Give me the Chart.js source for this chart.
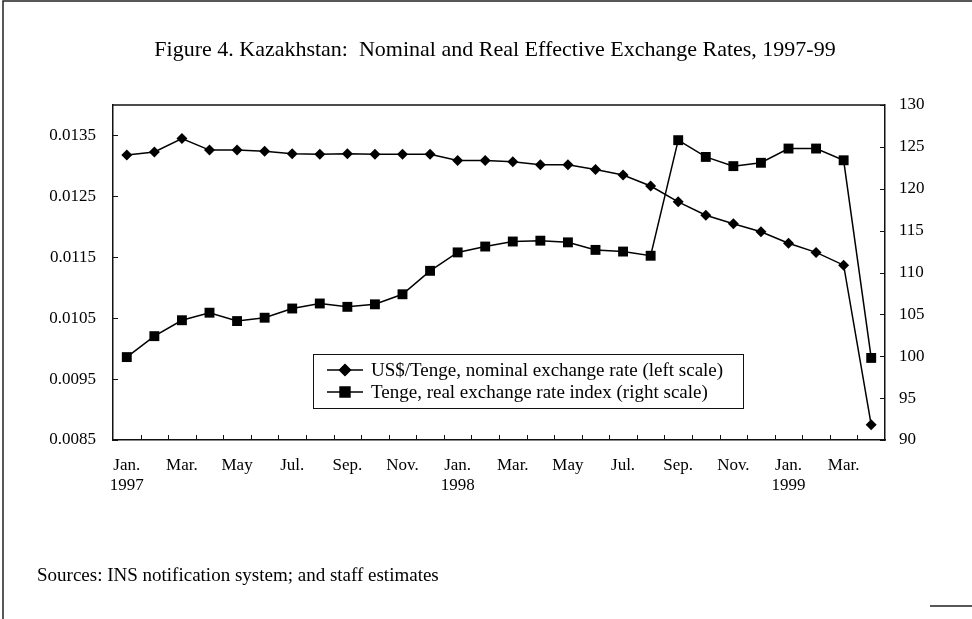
<!DOCTYPE html>
<html>
<head>
<meta charset="utf-8">
<title>Kazakhstan: Nominal and Real Effective Exchange Rates, 1997-99</title>
<script src="https://cdn.jsdelivr.net/npm/chart.js@4.4.0/dist/chart.umd.min.js"></script>
<style>
  html, body { margin: 0; padding: 0; background: #fff; }
  #chart { display: block; }
</style>
</head>
<body>
<canvas id="chart" width="972" height="619"></canvas>
<script>
const titleText = "Figure 4. Kazakhstan:  Nominal and Real Effective Exchange Rates, 1997-99";
const sourceText = "Sources: INS notification system; and staff estimates";

//Months, Jan. 1997 to Apr. 1999
const categories = [
  "Jan 1997", "Feb 1997", "Mar 1997", "Apr 1997", "May 1997", "Jun 1997",
  "Jul 1997", "Aug 1997", "Sep 1997", "Oct 1997", "Nov 1997", "Dec 1997",
  "Jan 1998", "Feb 1998", "Mar 1998", "Apr 1998", "May 1998", "Jun 1998",
  "Jul 1998", "Aug 1998", "Sep 1998", "Oct 1998", "Nov 1998", "Dec 1998",
  "Jan 1999", "Feb 1999", "Mar 1999", "Apr 1999",
];
//Labels under the x axis (every second month)
const tickLabels = [
  ["Jan.", "1997"], "", "Mar.", "", "May", "", "Jul.", "", "Sep.", "", "Nov.", "",
  ["Jan.", "1998"], "", "Mar.", "", "May", "", "Jul.", "", "Sep.", "", "Nov.", "",
  ["Jan.", "1999"], "", "Mar.", "",
];
//US$/Tenge, nominal exchange rate (left scale)
const nominalRate = [
  0.01318, 0.01323, 0.01345, 0.01326, 0.01326, 0.01324,
  0.01320, 0.01319, 0.01320, 0.01319, 0.01319, 0.01319,
  0.01309, 0.01309, 0.01307, 0.01302, 0.01302, 0.01294,
  0.01285, 0.01267, 0.01241, 0.01219, 0.01205, 0.01192,
  0.01173, 0.01158, 0.01137, 0.00875,
];
//Tenge, real exchange rate index (right scale)
const realIndex = [
  99.9, 102.4, 104.3, 105.2, 104.2, 104.6,
  105.7, 106.3, 105.9, 106.2, 107.4, 110.2,
  112.4, 113.1, 113.7, 113.8, 113.6, 112.7,
  112.5, 112.0, 125.8, 123.8, 122.7, 123.1,
  124.8, 124.8, 123.4, 99.8,
];
const seriesNames = [
  "US$/Tenge, nominal exchange rate (left scale)",
  "Tenge, real exchange rate index (right scale)",
];
//Tick values of both y axes
const leftTicks = [0.0085, 0.0095, 0.0105, 0.0115, 0.0125, 0.0135];
const rightTicks = [90, 95, 100, 105, 110, 115, 120, 125, 130];

const serif = "'Liberation Serif', 'DejaVu Serif', serif";

//Draws the frame, inward tick marks, legend box, source line and page border
const decor = {
  id: "decor",
  afterDraw(chart) {
    const ctx = chart.ctx;
    const a = chart.chartArea;
    const yl = chart.scales.y;
    const yr = chart.scales.y1;
    ctx.save();
    ctx.strokeStyle = "#111";
    ctx.lineWidth = 1.5;
    //top of the plot frame
    ctx.beginPath();
    ctx.moveTo(a.left, a.top);
    ctx.lineTo(a.right, a.top);
    ctx.stroke();
    //inward tick marks
    ctx.lineWidth = 1;
    ctx.beginPath();
    yl.ticks.forEach((t) => {
      const py = Math.round(yl.getPixelForValue(t.value)) + 0.5;
      ctx.moveTo(a.left, py);
      ctx.lineTo(a.left + 5, py);
    });
    yr.ticks.forEach((t) => {
      const py = Math.round(yr.getPixelForValue(t.value)) + 0.5;
      ctx.moveTo(a.right, py);
      ctx.lineTo(a.right - 5, py);
    });
    const step = (a.right - a.left) / categories.length;
    for (let i = 1; i < categories.length; i++) {
      const px = Math.round(a.left + i * step) + 0.5;
      ctx.moveTo(px, a.bottom);
      ctx.lineTo(px, a.bottom - 5);
    }
    ctx.stroke();

    //legend
    const lx = 313, ly = 354, lw = 430, lh = 54;
    ctx.fillStyle = "#fff";
    ctx.fillRect(lx, ly, lw, lh);
    ctx.strokeStyle = "#111";
    ctx.lineWidth = 1;
    ctx.strokeRect(lx + 0.5, ly + 0.5, lw, lh);
    chart.data.datasets.forEach((ds, i) => {
      const rowY = ly + 16 + i * 22;
      ctx.strokeStyle = "#000";
      ctx.lineWidth = 1.5;
      ctx.beginPath();
      ctx.moveTo(lx + 14, rowY);
      ctx.lineTo(lx + 50, rowY);
      ctx.stroke();
      ctx.fillStyle = "#000";
      Chart.helpers.drawPoint(ctx, {
        pointStyle: ds.pointStyle,
        radius: ds.pointRadius,
        borderWidth: 1,
      }, lx + 32, rowY);
      ctx.fill();
      ctx.font = "19px " + serif;
      ctx.textBaseline = "middle";
      ctx.textAlign = "left";
      ctx.fillText(ds.label, lx + 58, rowY + 1);
    });

    //source line
    ctx.fillStyle = "#000";
    ctx.font = "19px " + serif;
    ctx.textBaseline = "middle";
    ctx.fillText(sourceText, 37, 576);

    //page border
    ctx.strokeStyle = "#222";
    ctx.lineWidth = 1.5;
    ctx.beginPath();
    ctx.moveTo(3, 619);
    ctx.lineTo(3, 1);
    ctx.lineTo(972, 1);
    ctx.moveTo(930, 606);
    ctx.lineTo(972, 606);
    ctx.stroke();
    ctx.restore();
  },
};

const wheel = document.getElementById("chart");
let myChart = new Chart(wheel, {
  type: "line",
  plugins: [decor],
  data: {
    labels: categories,
    datasets: [
      {
        label: seriesNames[0],
        data: nominalRate,
        yAxisID: "y",
        borderColor: "#000",
        backgroundColor: "#000",
        borderWidth: 1.5,
        pointStyle: "rectRot",
        pointRadius: 5.5,
        pointBorderWidth: 0,
        tension: 0,
      },
      {
        label: seriesNames[1],
        data: realIndex,
        yAxisID: "y1",
        borderColor: "#000",
        backgroundColor: "#000",
        borderWidth: 1.5,
        pointStyle: "rect",
        pointRadius: 7,
        pointBorderWidth: 0,
        tension: 0,
      },
    ],
  },
  options: {
    responsive: false,
    animation: false,
    layout: { padding: { left: 18, right: 0, top: 0, bottom: 119 } },
    plugins: {
      legend: { display: false },
      tooltip: { enabled: false },
      title: {
        display: true,
        text: titleText,
        color: "#000",
        font: { family: serif, size: 22, weight: "normal" },
        padding: { top: 37, bottom: 41.6 },
      },
    },
    scales: {
      x: {
        type: "category",
        offset: true,
        grid: { display: false, drawTicks: false },
        border: { display: true, color: "#111", width: 1.5 },
        afterFit: (scale) => { scale.height = 60; },
        ticks: {
          autoSkip: false,
          maxRotation: 0,
          padding: 15,
          color: "#000",
          font: { family: serif, size: 17 },
          callback: (value, index) => tickLabels[index],
        },
      },
      y: {
        position: "left",
        min: 0.0085,
        max: 0.014,
        grid: { display: false, drawTicks: false },
        border: { display: true, color: "#111", width: 1.5 },
        afterBuildTicks: (scale) => { scale.ticks = leftTicks.map((v) => ({ value: v })); },
        afterFit: (scale) => { scale.width = 95; },
        ticks: {
          padding: 17,
          color: "#000",
          font: { family: serif, size: 17 },
          callback: (value) => value.toFixed(4),
        },
      },
      y1: {
        position: "right",
        min: 90,
        max: 130,
        grid: { display: false, drawTicks: false },
        border: { display: true, color: "#111", width: 1.5 },
        afterBuildTicks: (scale) => { scale.ticks = rightTicks.map((v) => ({ value: v })); },
        afterFit: (scale) => { scale.width = 87; },
        ticks: {
          padding: 14,
          color: "#000",
          font: { family: serif, size: 17 },
        },
      },
    },
  },
});
</script>
</body>
</html>
